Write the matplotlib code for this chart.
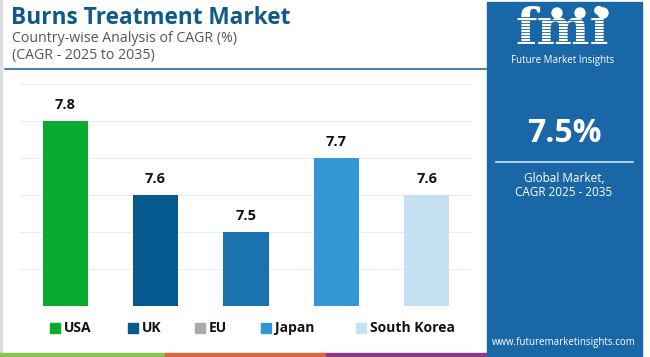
import matplotlib
matplotlib.use("Agg")
import matplotlib.pyplot as plt
from matplotlib.patches import Rectangle, Circle
import numpy as np

plt.rcParams['font.family'] = ['Open Sans', 'DejaVu Sans']

# Data
countries = ["USA", "UK", "EU", "Japan", "South Korea"]
cagr = [7.8, 7.6, 7.5, 7.7, 7.6]
bar_colors = ["#0aab2e", "#065a8f", "#1a73ad", "#3596d4", "#c5e1f2"]
legend_colors = ["#0aab2e", "#065a8f", "#aaaaaa", "#3596d4", "#c5e1f2"]
title = "Burns Treatment Market"
subtitle1 = "Country-wise Analysis of CAGR (%)"
subtitle2 = "(CAGR - 2025 to 2035)"
global_cagr = "7.5%"

W, H = 650, 357
fig = plt.figure(figsize=(W / 100, H / 100), dpi=100)
fig.patch.set_facecolor("white")

# overlay axes in pixel coords
ov = fig.add_axes([0, 0, 1, 1])
ov.set_xlim(0, W)
ov.set_ylim(H, 0)
ov.axis("off")

# left border
ov.add_patch(Rectangle((0, 0), 1.5, H, color="#dddddd", zorder=0))
# title
ov.text(11, 18, title, fontsize=16.3, fontweight="bold", color="#0e5a8a", va="center", ha="left")
ov.text(12, 38, subtitle1, fontsize=10.2, color="#555555", va="center", ha="left")
ov.text(12, 56, subtitle2, fontsize=10.2, color="#555555", va="center", ha="left")
ov.plot([5, 487], [68.5, 68.5], color="#1f6c9c", lw=1.2)

# bottom strip
ov.add_patch(Rectangle((0, 353), 165, 4, color="#8bc34a"))
ov.add_patch(Rectangle((165, 353), 161, 4, color="#e0653a"))
ov.add_patch(Rectangle((326, 353), 162, 4, color="#8e3a8a"))

# right panel
ov.add_patch(Rectangle((487, 2), 155, H, color="#1a67a8", zorder=1))
ov.text(562, 31, "fmi", fontsize=36, fontweight="bold", color="white", ha="center", va="center",
        family=["DejaVu Serif"], zorder=3)
for yy in np.arange(17, 50, 3):
    ov.plot([508, 618], [yy, yy], color="#1a67a8", lw=0.6, zorder=4)
for cx in [557, 580, 603]:
    ov.add_patch(Circle((cx, 13), 5, color="white", zorder=5))
ov.text(563, 61, "Future Market Insights", fontsize=7, color="white", ha="center", va="center", zorder=3)
ov.text(564, 133, global_cagr, fontsize=23, fontweight="bold", color="white", ha="center", va="center", zorder=3)
ov.plot([496, 633], [162, 162], color="#d0e2f2", lw=1.2, zorder=3)
ov.text(564, 178, "Global Market,", fontsize=8.5, color="white", ha="center", va="center", zorder=3)
ov.text(564, 193, "CAGR 2025 - 2035", fontsize=8.5, color="white", ha="center", va="center", zorder=3)
ov.text(564, 342, "www.futuremarketinsights.com", fontsize=7, color="white", ha="center", va="center", zorder=3)

# legend
leg_x = [50, 128, 195, 261, 356]
for x, c, lab in zip(leg_x, legend_colors, countries):
    ov.add_patch(Rectangle((x, 323), 10, 10, color=c))
    ov.text(x + 14, 328, lab, fontsize=10, fontweight="bold", color="#111111", va="center", ha="left")

# chart axes
ax_left, ax_right, ax_top, ax_bot = 20, 472, 84, 306
ax = fig.add_axes([ax_left / W, (H - ax_bot) / H, (ax_right - ax_left) / W, (ax_bot - ax_top) / H])
ax.set_facecolor("none")
x = np.arange(len(countries))
ax.bar(x, cagr, width=0.5, color=bar_colors, zorder=2, bottom=0)
ax.set_ylim(7.3, 7.9)
ax.set_xlim(-0.5, len(countries) - 0.5)
ax.set_yticks(np.arange(7.3, 7.91, 0.1))
ax.yaxis.grid(True, color="#eeeeee", lw=0.8, zorder=0)
ax.tick_params(left=False, bottom=False, labelleft=False, labelbottom=False)
for s in ax.spines.values():
    s.set_visible(False)
for xi, v in zip(x, cagr):
    ax.text(xi, v + 0.042, f"{v:.1f}", ha="center", va="center", fontsize=10.5, fontweight="bold", color="#111111")

fig.savefig("out.png", dpi=100)
